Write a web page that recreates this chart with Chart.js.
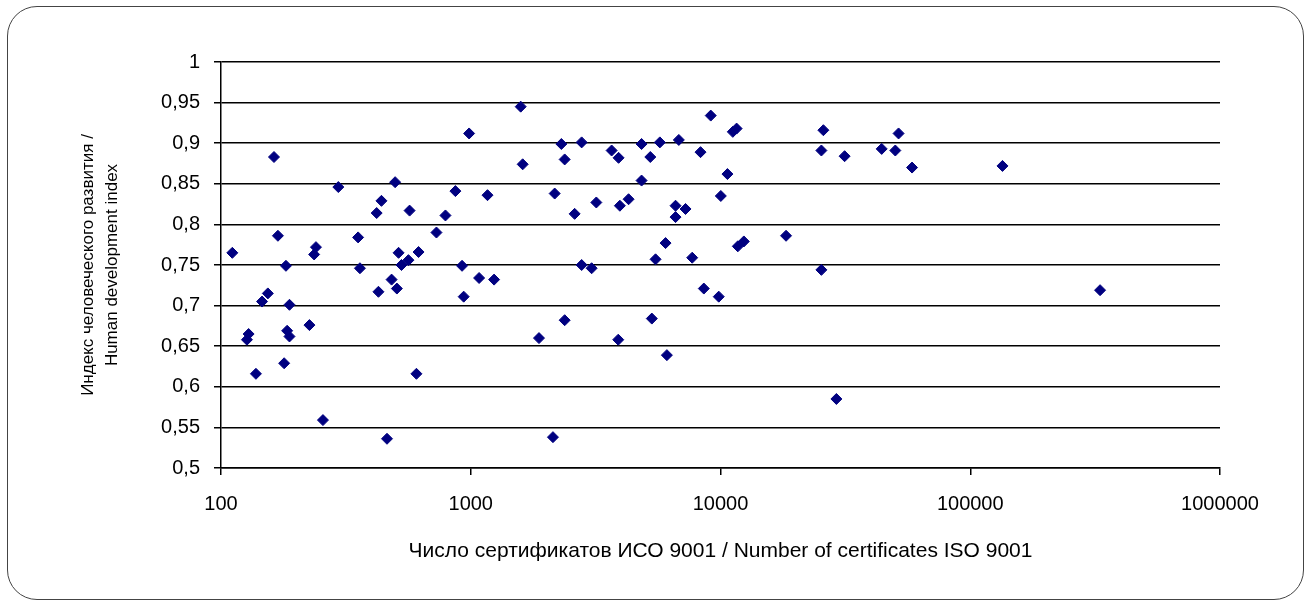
<!DOCTYPE html>
<html>
<head>
<meta charset="utf-8">
<script src="https://cdn.jsdelivr.net/npm/chart.js@4.4.1/dist/chart.umd.min.js"></script>
<style>
  body { margin: 0; background: #fff; }
  #wrap { position: relative; width: 1309px; height: 606px; }
  #frame {
    position: absolute; left: 7px; top: 6px; width: 1297px; height: 594px;
    box-sizing: border-box; border: 1.5px solid #444; border-radius: 30px;
  }
  canvas { position: absolute; left: 0; top: 0; }
</style>
</head>
<body>
<div id="wrap">
  <div id="frame"></div>
  <canvas id="hdiChart" width="1309" height="606"></canvas>
</div>
<script>
// ISO 9001 certificates per country vs. human development index

const isoCertificates = [
  111, 127, 129, 138, 146, 154, 163, 169, 179, 182,
  184, 188, 188, 226, 236, 240, 256, 295, 354, 360,
  420, 427, 439, 462, 482, 498, 506, 514, 528, 563,
  569, 606, 618, 729, 792, 868, 923, 937, 985, 1080,
  1167, 1240, 1585, 1614, 1876, 2134, 2168, 2306, 2377, 2377,
  2606, 2780, 2780, 3048, 3183, 3665, 3896, 3908, 3954, 4285,
  4830, 4830, 5235, 5309, 5495, 5716, 6026, 6100, 6607, 6607,
  6810, 7244, 7704, 8318, 8575, 9140, 9840, 10030, 10660, 11200,
  11600, 11730, 12400, 18300, 25350, 25350, 25820, 29110, 31400, 44200,
  50120, 51640, 58480, 134600, 331000
];

const hdiValues = [
  0.765, 0.658, 0.665, 0.616, 0.705, 0.715, 0.883, 0.786, 0.629, 0.749,
  0.669, 0.662, 0.701, 0.676, 0.763, 0.772, 0.559, 0.846, 0.784, 0.746,
  0.814, 0.717, 0.829, 0.536, 0.732, 0.852, 0.721, 0.765, 0.750, 0.756,
  0.817, 0.616, 0.766, 0.790, 0.811, 0.841, 0.749, 0.711, 0.912, 0.734,
  0.836, 0.732, 0.945, 0.874, 0.660, 0.538, 0.838, 0.899, 0.880, 0.682,
  0.813, 0.901, 0.750, 0.746, 0.827, 0.891, 0.658, 0.882, 0.823, 0.831,
  0.899, 0.854, 0.883, 0.684, 0.757, 0.901, 0.777, 0.639, 0.823, 0.809,
  0.904, 0.819, 0.759, 0.889, 0.721, 0.934, 0.711, 0.835, 0.862, 0.914,
  0.918, 0.773, 0.779, 0.786, 0.891, 0.744, 0.916, 0.585, 0.884, 0.893,
  0.891, 0.912, 0.870, 0.872, 0.719
];

const xTickValues = [100, 1000, 10000, 100000, 1000000];

const xTitle = 'Число сертификатов ИСО 9001 / Number of certificates ISO 9001';
const yTitle = ['Индекс человеческого развития /', 'Human development index'];

const points = isoCertificates.map((x, i) => ({ x: x, y: hdiValues[i] }));
const fontFamily = '"Liberation Sans", Arial, sans-serif';

function drawChart() {
  const ctx = document.getElementById('hdiChart').getContext('2d');
  new Chart(ctx, {
    type: 'scatter',
    data: {
      datasets: [{
        label: 'HDI',
        data: points,
        pointStyle: 'rectRot',
        pointRadius: 5.5,
        pointBorderWidth: 1,
        backgroundColor: '#000080',
        borderColor: '#000080'
      }]
    },
    options: {
      responsive: false,
      animation: false,
      layout: { padding: { left: 0, top: 62, right: 89, bottom: 0 } },
      plugins: {
        legend: { display: false },
        tooltip: { enabled: false }
      },
      scales: {
        x: {
          type: 'logarithmic',
          min: 100,
          max: 1000000,
          afterBuildTicks: scale => {
            scale.ticks = xTickValues.map(v => ({ value: v }));
          },
          afterFit: scale => { scale.height = 138; },
          border: { display: true, color: '#000', width: 1.5 },
          grid: {
            drawOnChartArea: false,
            drawTicks: true,
            tickLength: 7,
            color: '#000',
            lineWidth: 1.5
          },
          ticks: {
            autoSkip: false,
            maxRotation: 0,
            padding: 17,
            color: '#000',
            font: { family: fontFamily, size: 20 },
            callback: value => String(value)
          },
          title: {
            display: true,
            text: xTitle,
            color: '#000',
            font: { family: fontFamily, size: 21, lineHeight: 1.2 },
            padding: { top: 0, bottom: 42.4 }
          }
        },
        y: {
          min: 0.5,
          max: 1,
          afterFit: scale => { scale.width = 221; },
          border: { display: true, color: '#000', width: 1.5 },
          grid: {
            color: '#000',
            lineWidth: 1.5,
            tickLength: 7
          },
          ticks: {
            stepSize: 0.05,
            padding: 14,
            color: '#000',
            font: { family: fontFamily, size: 20 },
            callback: value => String(Number(value.toFixed(2))).replace('.', ',')
          },
          title: {
            display: true,
            text: yTitle,
            color: '#000',
            font: { family: fontFamily, size: 17, lineHeight: 1.44 },
            padding: { top: 75.75, bottom: 0 }
          }
        }
      }
    }
  });
}

window.addEventListener('DOMContentLoaded', drawChart);
</script>
</body>
</html>
